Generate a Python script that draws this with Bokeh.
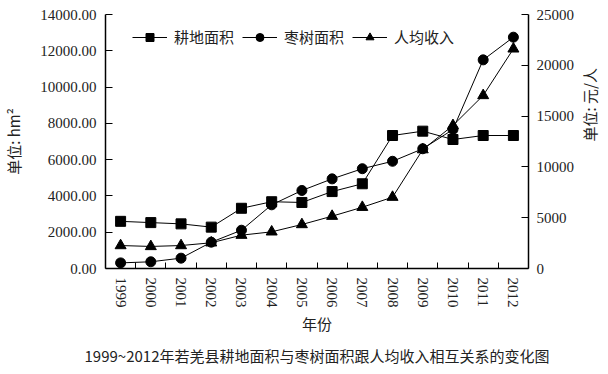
import math
from bokeh.plotting import figure
from bokeh.models import (Range1d, LinearAxis, FixedTicker, NumeralTickFormatter,
                          Legend, LegendItem, Title)
from bokeh.embed import file_html
from bokeh.resources import INLINE

years = ["1999", "2000", "2001", "2002", "2003", "2004", "2005",
         "2006", "2007", "2008", "2009", "2010", "2011", "2012"]
cultivated = [2600, 2530, 2460, 2280, 3320, 3680, 3640,
              4240, 4670, 7330, 7570, 7110, 7330, 7330]
jujube = [310, 370, 570, 1450, 2110, 3510, 4300,
          4940, 5500, 5910, 6600, 7660, 11500, 12750]
income = [2260, 2170, 2260, 2530, 3280, 3610, 4330,
          5150, 6030, 7020, 11700, 14080, 17030, 21620]

left_ticks = [0, 2000, 4000, 6000, 8000, 10000, 12000, 14000]
right_ticks = [0, 5000, 10000, 15000, 20000, 25000]

xs = list(range(1, len(years) + 1))
bounds = [i + 0.5 for i in xs[:-1]]

SERIF = "'Liberation Serif', 'Times New Roman', serif"
CJK = "'Noto Sans CJK SC', sans-serif"
TXT = "#222222"

p = figure(frame_width=423, frame_height=254, output_backend="svg",
           toolbar_location=None, x_range=Range1d(0.5, len(years) + 0.5),
           y_range=Range1d(0, 14000),
           min_border_left=91, min_border_right=77, min_border_top=14,
           min_border_bottom=90)
p.extra_y_ranges = {"income": Range1d(0, 25000)}
p.outline_line_color = None
p.xgrid.visible = False
p.ygrid.visible = False
p.background_fill_color = "white"

# x axis: ticks at category boundaries, labels at centers
xa = p.xaxis[0]
xa.ticker = FixedTicker(ticks=xs, minor_ticks=bounds)
xa.major_label_overrides = {x: y for x, y in zip(xs, years)}
xa.major_tick_line_color = None
xa.minor_tick_in = 6
xa.minor_tick_out = 0
xa.minor_tick_line_color = "black"
xa.major_label_orientation = "vertical"
xa.major_label_text_font = SERIF
xa.major_label_text_font_size = "15px"
xa.major_label_text_color = TXT
xa.major_label_standoff = 3
xa.axis_label = "年份"
xa.axis_label_text_font = CJK
xa.axis_label_text_font_size = "15px"
xa.axis_label_text_font_style = "normal"
xa.axis_label_text_color = TXT
xa.axis_label_standoff = 2
xa.axis_line_width = 1.5

ya = p.yaxis[0]
ya.ticker = FixedTicker(ticks=left_ticks)
ya.formatter = NumeralTickFormatter(format="0.00")
ya.major_tick_in = 7
ya.major_tick_out = 0
ya.minor_tick_line_color = None
ya.major_label_text_font = SERIF
ya.major_label_text_font_size = "15px"
ya.major_label_text_color = TXT
ya.major_label_standoff = 9
ya.axis_label = "单位: hm²"
ya.axis_label_text_font = CJK
ya.axis_label_text_font_size = "15px"
ya.axis_label_text_font_style = "normal"
ya.axis_label_text_color = TXT
ya.axis_label_standoff = 13
ya.axis_line_width = 1.5

# right axis: line, ticks and tick labels
ra = LinearAxis(y_range_name="income", ticker=FixedTicker(ticks=right_ticks),
                formatter=NumeralTickFormatter(format="0"))
ra.major_tick_in = 7
ra.major_tick_out = 0
ra.minor_tick_line_color = None
ra.major_label_text_font = SERIF
ra.major_label_text_font_size = "15px"
ra.major_label_text_color = TXT
ra.major_label_standoff = 8
ra.axis_line_width = 1.5
p.add_layout(ra, "right")

# second right axis carrying only the title, reading bottom-to-top
rt = LinearAxis(y_range_name="income", ticker=FixedTicker(ticks=[]),
                bounds=(0, 19490))
rt.axis_line_color = None
rt.major_tick_line_color = None
rt.minor_tick_line_color = None
rt.major_label_text_font_size = "0px"
rt.axis_label = "单位: 元/人"
rt.axis_label_text_font = CJK
rt.axis_label_text_font_size = "15px"
rt.axis_label_text_font_style = "normal"
rt.axis_label_text_color = TXT
rt.axis_label_standoff = 12
if "axis_label_orientation" in rt.properties():
    rt.axis_label_orientation = math.pi / 2
p.add_layout(rt, "right")

l1 = p.line(xs, cultivated, line_color="black", line_width=1)
m1 = p.scatter(xs, cultivated, marker="square", size=10, color="black")
l2 = p.line(xs, jujube, line_color="black", line_width=1)
m2 = p.scatter(xs, jujube, marker="circle", size=10, color="black")
l3 = p.line(xs, income, line_color="black", line_width=1, y_range_name="income")
m3 = p.scatter(xs, income, marker="triangle", size=11, color="black",
               y_range_name="income")

legend = Legend(items=[
    LegendItem(label="耕地面积", renderers=[l1, m1]),
    LegendItem(label="枣树面积", renderers=[l2, m2]),
    LegendItem(label="人均收入", renderers=[l3, m3]),
], orientation="horizontal", location=(27, 221))
legend.border_line_color = None
legend.background_fill_alpha = 0
legend.glyph_width = 35
legend.label_standoff = 7
legend.spacing = 8
legend.padding = 0
legend.margin = 0
legend.label_text_font = CJK
legend.label_text_font_size = "15px"
legend.label_text_color = TXT
p.add_layout(legend)

title = Title(text="1999~2012年若羌县耕地面积与枣树面积跟人均收入相互关系的变化图",
              align="center", text_font=CJK, text_font_size="15px",
              text_font_style="normal", text_color=TXT, standoff=12)
p.add_layout(title, "below")

open("out.html", "w").write(file_html(p, INLINE))
